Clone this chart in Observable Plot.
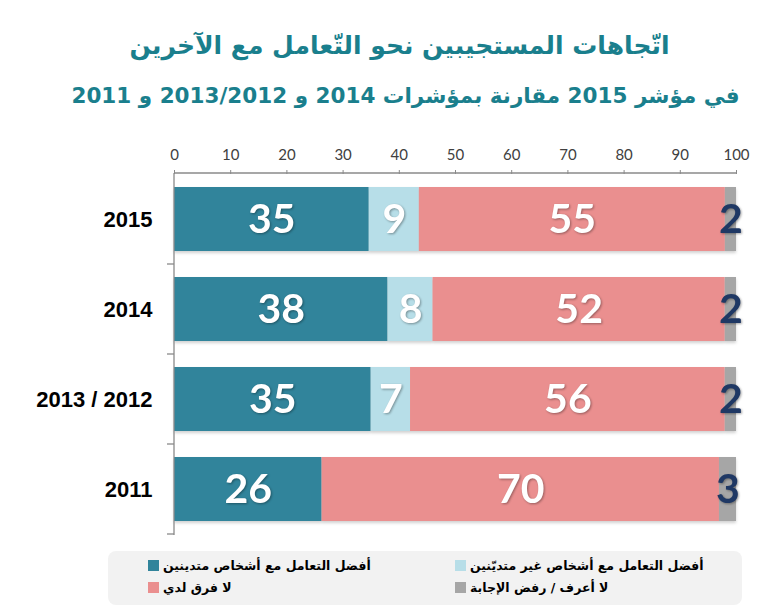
<!DOCTYPE html>
<html><head><meta charset="utf-8">
<script src="https://cdn.jsdelivr.net/npm/d3@7"></script>
<script src="https://cdn.jsdelivr.net/npm/@observablehq/plot@0.6"></script>
<style>
body{margin:0;background:#fff;width:771px;height:613px;position:relative;overflow:hidden;font-family:"DejaVu Sans",sans-serif}
.t{position:absolute;width:771px;text-align:center;font-weight:bold;color:#1a7f8d;direction:rtl;white-space:nowrap}
#t1{top:26px;left:14px;font-size:25px;line-height:40px}
#t2{top:78px;left:20px;font-size:21.5px;line-height:36px}
#chart{position:absolute;left:0;top:130px}
#legend{position:absolute;left:108px;top:551px;width:634px;height:54px;background:#f2f2f2;border-radius:8px}
.li{position:absolute;display:flex;align-items:center;font-weight:bold;font-size:12.5px;color:#000;height:20px;white-space:nowrap}
.sw{width:11px;height:11px;margin-right:4px;flex:none}
</style>
</head><body>
<div class="t" id="t1"></div>
<div class="t" id="t2"></div>
<div id="chart"></div>
<div id="legend"></div>
<script>
const titleLine1 = "اتّجاهات المستجيبين نحو التّعامل مع الآخرين";
const titleLine2 = "في مؤشر 2015 مقارنة بمؤشرات  2014 و 2013/2012 و 2011";
const categories = ["2015", "2014", "2013 / 2012", "2011"];
const series = [
  "أفضل التعامل مع أشخاص متدينين",
  "أفضل التعامل مع أشخاص غير متديّنين",
  "لا فرق لدي",
  "لا أعرف / رفض الإجابة"
];
const colors = ["#31849b", "#b7dee8", "#ea8f8f", "#a6a6a6"];
const religious    = [35, 38, 35, 26];
const nonReligious = [9, 8, 7, 0];
const noDifference = [55, 52, 56, 70];
const dontKnow     = [2, 2, 2, 3];
const xTicks = [0, 10, 20, 30, 40, 50, 60, 70, 80, 90, 100];

document.getElementById("t1").textContent = titleLine1;
document.getElementById("t2").textContent = titleLine2;

const values = [religious, nonReligious, noDifference, dontKnow];
const rows = [];
categories.forEach((c, i) => series.forEach((s, j) => rows.push({year: c, series: s, idx: j, value: values[j][i]})));

function axisLines(index, scales, vals, dims) {
  const y = scales.y;
  const L = dims.marginLeft, R = dims.width - dims.marginRight, T = dims.marginTop, B = dims.height - dims.marginBottom;
  const g = d3.create("svg:g").attr("stroke", "#8a8a8a").attr("stroke-width", 1.3).attr("fill", "none");
  g.append("line").attr("x1", L).attr("x2", R).attr("y1", T).attr("y2", T);
  g.append("line").attr("x1", L).attr("x2", L).attr("y1", T).attr("y2", B);
  const gap = y.step() - y.bandwidth();
  for (const c of y.domain()) {
    const yy = y(c) + y.bandwidth() + gap / 2;
    g.append("line").attr("x1", L - 7).attr("x2", L).attr("y1", yy).attr("y2", yy);
  }
  return g.node();
}

const stackOpts = (extra) => Plot.stackX({offset: "normalize", x: "value", y: "year", order: null, ...extra});

const chart = Plot.plot({
  width: 771, height: 410,
  marginTop: 43, marginLeft: 174, marginRight: 35, marginBottom: 5,
  style: {background: "transparent", overflow: "visible"},
  x: {domain: [0, 1], label: null},
  y: {domain: categories, paddingInner: 0.29, paddingOuter: 0.145, label: null},
  color: {domain: series, range: colors},
  marks: [
    Plot.barX(rows, stackOpts({fill: "series"})),
    Plot.text(rows, stackOpts({text: d => (d.idx < 3 && d.value > 0) ? String(d.value) : "", fill: "white", fontSize: 41, fontWeight: "bold", fontFamily: "Lato, sans-serif"})),
    Plot.text(rows, stackOpts({text: d => d.idx === 3 ? String(d.value) : "", fill: "#1f3864", fontSize: 41, fontWeight: "bold", fontFamily: "Lato, sans-serif"})),
    Plot.axisX({anchor: "top", ticks: xTicks.map(t => t / 100), tickFormat: d => String(Math.round(d * 100)), tickSize: 4, tickPadding: 10, fontSize: 15, fontFamily: "Lato, sans-serif", fill: "#404040", stroke: "#8a8a8a", label: null}),
    Plot.axisY({tickSize: 0, tickPadding: 22, fontSize: 22, fontWeight: "bold", fontFamily: "Liberation Sans, Arial, sans-serif", fill: "#000", label: null}),
    axisLines
  ]
});
document.getElementById("chart").appendChild(chart);
chart.querySelectorAll("g[aria-label='bar']").forEach(g => g.style.filter = "drop-shadow(0px 2px 1.5px rgba(0,0,0,0.18))");
chart.querySelectorAll("g[aria-label='text']").forEach(g => g.style.filter = "drop-shadow(1px 1.5px 1px rgba(0,0,0,0.35))");

const legend = document.getElementById("legend");
const colX = [40, 347], rowY = [4, 26];
series.forEach((s, j) => {
  const d = document.createElement("div");
  d.className = "li";
  d.style.left = colX[j % 2] + "px";
  d.style.top = rowY[Math.floor(j / 2)] + "px";
  const sw = document.createElement("span");
  sw.className = "sw"; sw.style.background = colors[j];
  const tx = document.createElement("span");
  tx.textContent = s;
  d.appendChild(sw); d.appendChild(tx);
  legend.appendChild(d);
});
</script>
</body></html>
